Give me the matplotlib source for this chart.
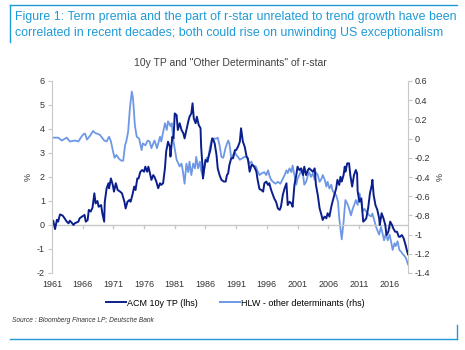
import matplotlib
matplotlib.use("Agg")
import matplotlib.pyplot as plt
from matplotlib.lines import Line2D

plt.rcParams['font.family'] = ['Liberation Sans', 'DejaVu Sans']

# ACM 10y term premium (lhs, %)
acm_years = [1961.0, 1961.2, 1961.5, 1961.8, 1962.0, 1962.3, 1962.7, 1963.0, 1963.4, 1963.7,
             1963.9, 1964.2, 1964.5, 1964.7, 1965.3, 1965.5, 1965.9, 1966.3, 1966.5, 1966.8,
             1967.0, 1967.3, 1967.6, 1967.9, 1968.1, 1968.4, 1968.6, 1969.0, 1969.2, 1969.5,
             1969.6, 1969.9, 1970.2, 1970.3, 1970.6, 1970.9, 1971.1, 1971.4, 1971.7, 1972.1,
             1972.4, 1972.8, 1973.0, 1973.3, 1973.6, 1973.8, 1974.1, 1974.4, 1974.6, 1974.9,
             1975.1, 1975.4, 1975.7, 1976.0, 1976.2, 1976.5, 1976.7, 1976.9, 1977.2, 1977.5,
             1977.7, 1978.0, 1978.3, 1978.6, 1978.8, 1979.1, 1979.4, 1979.6, 1979.9, 1980.2,
             1980.3, 1980.6, 1980.8, 1981.0, 1981.3, 1981.5, 1981.8, 1982.1, 1982.4, 1982.6,
             1982.9, 1983.2, 1983.4, 1983.7, 1983.9, 1984.1, 1984.4, 1984.6, 1984.9, 1985.2,
             1985.3, 1985.5, 1985.6, 1985.8, 1986.0, 1986.3, 1986.5, 1986.8, 1987.1, 1987.3,
             1987.5, 1987.8, 1988.0, 1988.3, 1988.6, 1989.0, 1989.3, 1989.5, 1989.7, 1989.9,
             1990.2, 1990.5, 1990.8, 1991.0, 1991.3, 1991.6, 1991.8, 1992.1, 1992.4, 1992.7,
             1992.9, 1993.2, 1993.5, 1993.7, 1994.0, 1994.3, 1994.5, 1994.8, 1995.1, 1995.4,
             1995.6, 1995.9, 1996.2, 1996.4, 1996.7, 1997.0, 1997.2, 1997.5, 1997.8, 1998.1,
             1998.3, 1998.6, 1998.9, 1999.2, 1999.4, 1999.7, 2000.0, 2000.2, 2000.5, 2000.8,
             2001.0, 2001.3, 2001.6, 2001.9, 2002.1, 2002.4, 2002.7, 2002.9, 2003.2, 2003.5,
             2003.8, 2004.0, 2004.3, 2004.6, 2004.9, 2005.1, 2005.4, 2005.7, 2005.9, 2006.2,
             2006.5, 2006.7, 2007.0, 2007.3, 2007.5, 2007.8, 2008.0, 2008.2, 2008.5, 2008.7,
             2008.8, 2009.1, 2009.4, 2009.6, 2009.9, 2010.2, 2010.5, 2010.7, 2010.8, 2011.1,
             2011.4, 2011.7, 2012.0, 2012.2, 2012.5, 2012.8, 2013.1, 2013.2, 2013.4, 2013.7,
             2014.0, 2014.3, 2014.4, 2014.7, 2015.0, 2015.3, 2015.5, 2015.8, 2016.1, 2016.4,
             2016.6, 2016.9, 2017.2, 2017.5, 2017.7, 2018.0, 2018.3, 2018.6, 2018.8, 2019.0]
acm_tp = [0.14, 0.18, -0.17, 0.22, 0.14, 0.44, 0.40, 0.30, 0.14, 0.07,
          0.18, 0.10, 0.00, 0.07, 0.14, 0.28, 0.35, 0.42, 0.14, 0.20,
          0.63, 0.56, 0.72, 1.32, 0.90, 1.00, 0.76, 0.83, 0.49, 0.14,
          0.97, 1.53, 1.74, 1.53, 1.94, 1.67, 1.39, 1.74, 1.46, 1.39,
          1.32, 0.97, 0.69, 0.97, 1.04, 0.97, 1.25, 1.60, 1.46, 1.94,
          1.94, 2.22, 2.29, 2.22, 2.43, 2.22, 2.43, 2.22, 1.88, 2.08,
          2.00, 1.81, 1.53, 1.74, 1.67, 1.74, 2.36, 3.06, 3.47, 3.26,
          2.85, 3.68, 3.61, 4.65, 4.58, 3.96, 4.24, 3.96, 3.82, 3.61,
          3.96, 4.31, 4.51, 4.65, 5.07, 4.44, 4.24, 4.51, 4.17, 4.03,
          3.26, 2.50, 1.94, 2.36, 2.71, 2.64, 2.85, 3.12, 3.61, 3.54,
          3.40, 2.92, 2.36, 2.08, 1.88, 1.81, 1.81, 2.08, 2.15, 2.50,
          2.78, 2.78, 3.12, 3.12, 3.26, 3.47, 4.03, 3.47, 3.26, 2.85,
          2.78, 2.22, 2.50, 2.50, 2.40, 2.22, 1.88, 1.50, 1.46, 1.39,
          1.74, 1.81, 1.67, 1.74, 1.46, 1.25, 1.11, 0.97, 0.69, 0.63,
          0.76, 1.25, 1.53, 1.74, 0.83, 0.97, 0.90, 0.76, 1.67, 2.08,
          2.43, 2.29, 2.36, 2.08, 2.43, 2.08, 2.29, 2.36, 2.29, 2.22,
          2.36, 1.67, 1.25, 0.69, 0.42, 0.21, 0.35, 0.28, 0.49, 0.35,
          0.76, 0.97, 1.25, 1.53, 1.88, 1.67, 2.01, 1.81, 2.08, 2.43,
          2.22, 2.57, 2.57, 2.08, 1.60, 2.08, 2.29, 2.15, 1.39, 0.97,
          1.11, 0.14, 0.21, 0.28, 0.69, 1.32, 1.67, 1.88, 1.25, 0.83,
          0.63, 0.28, 0.00, 0.49, 0.28, 0.00, -0.42, -0.28, 0.14, 0.00,
          -0.14, -0.28, -0.28, -0.49, -0.49, -0.42, -0.56, -0.83, -1.04, -1.22]

# HLW "other determinants" of r-star (rhs, %)
hlw_years = [1961.0, 1962.0, 1962.6, 1963.4, 1963.9, 1964.7, 1965.3, 1965.8, 1966.2, 1966.4,
             1966.7, 1967.2, 1967.7, 1968.0, 1968.8, 1969.5, 1969.9, 1970.3, 1970.6, 1971.0,
             1971.2, 1971.5, 1971.9, 1972.3, 1972.6, 1972.9, 1973.1, 1973.4, 1973.7, 1974.0,
             1974.2, 1974.5, 1974.8, 1975.2, 1975.6, 1975.8, 1976.2, 1976.6, 1976.9, 1977.2,
             1977.5, 1977.7, 1978.1, 1978.6, 1978.8, 1979.4, 1979.7, 1979.9, 1980.3, 1980.5,
             1980.8, 1981.3, 1981.8, 1982.1, 1982.3, 1982.6, 1982.9, 1983.2, 1983.4, 1983.7,
             1984.0, 1984.3, 1984.5, 1984.8, 1985.1, 1985.3, 1985.6, 1985.9, 1986.2, 1986.4,
             1986.7, 1987.0, 1987.2, 1987.8, 1988.0, 1988.3, 1988.6, 1988.9, 1989.3, 1989.7,
             1989.9, 1990.2, 1990.5, 1990.8, 1991.0, 1991.3, 1991.6, 1992.1, 1992.4, 1992.7,
             1992.9, 1993.2, 1993.5, 1993.7, 1994.2, 1994.5, 1994.8, 1995.2, 1995.6, 1995.9,
             1996.2, 1996.4, 1996.7, 1997.0, 1997.4, 1997.8, 1998.2, 1998.6, 1998.9, 1999.2,
             1999.4, 1999.7, 2000.0, 2000.2, 2000.5, 2000.8, 2001.0, 2001.3, 2001.6, 2001.9,
             2002.1, 2002.4, 2002.7, 2002.9, 2003.2, 2003.5, 2003.8, 2004.0, 2004.3, 2004.6,
             2004.9, 2005.1, 2005.4, 2005.7, 2005.9, 2006.2, 2006.5, 2006.7, 2007.0, 2007.3,
             2007.6, 2007.8, 2008.1, 2008.2, 2008.5, 2008.8, 2009.2, 2009.5, 2009.7, 2010.0,
             2010.3, 2010.5, 2010.8, 2011.1, 2011.4, 2011.6, 2011.9, 2012.2, 2012.7, 2013.0,
             2013.2, 2013.5, 2013.8, 2014.1, 2014.3, 2014.6, 2014.9, 2015.1, 2015.4, 2015.7,
             2016.0, 2016.2, 2016.5, 2016.8, 2017.0, 2017.3, 2017.6, 2017.9, 2018.1, 2018.4,
             2018.7, 2019.0]
hlw_other = [0.01, 0.01, -0.02, 0.01, -0.03, -0.02, -0.03, 0.02, 0.05, 0.05,
             -0.01, 0.03, 0.08, 0.06, 0.04, -0.02, -0.03, 0.02, -0.03, -0.15,
             -0.20, -0.17, -0.21, -0.23, -0.23, -0.07, -0.03, 0.07, 0.32, 0.49,
             0.42, 0.14, 0.02, 0.00, -0.12, -0.05, -0.07, -0.02, -0.03, -0.10,
             -0.05, -0.02, -0.10, 0.02, -0.03, 0.16, 0.09, 0.18, 0.13, 0.16,
             -0.03, -0.22, -0.29, -0.26, -0.33, -0.47, -0.26, -0.35, -0.24, -0.38,
             -0.26, -0.31, -0.19, -0.31, -0.24, -0.33, -0.40, -0.28, -0.20, -0.24,
             -0.10, -0.02, 0.00, 0.00, 0.01, -0.07, -0.19, -0.20, -0.09, -0.02,
             -0.05, -0.20, -0.17, -0.14, -0.17, -0.19, -0.22, -0.20, -0.19, -0.19,
             -0.22, -0.26, -0.24, -0.28, -0.29, -0.34, -0.38, -0.36, -0.35, -0.38,
             -0.33, -0.38, -0.43, -0.45, -0.47, -0.45, -0.47, -0.42, -0.38, -0.33,
             -0.36, -0.31, -0.35, -0.28, -0.38, -0.48, -0.42, -0.38, -0.33, -0.38,
             -0.48, -0.45, -0.38, -0.35, -0.40, -0.36, -0.43, -0.35, -0.38, -0.45,
             -0.42, -0.38, -0.42, -0.50, -0.45, -0.52, -0.48, -0.54, -0.57, -0.59,
             -0.66, -0.83, -1.00, -1.05, -0.87, -0.64, -0.69, -0.75, -0.80, -0.73,
             -0.68, -0.64, -0.69, -0.57, -0.66, -0.76, -0.73, -0.76, -0.80, -0.81,
             -0.78, -0.85, -0.92, -0.97, -1.00, -0.92, -1.00, -1.06, -0.99, -1.06,
             -1.00, -1.06, -1.16, -1.09, -1.12, -1.07, -1.16, -1.18, -1.20, -1.22,
             -1.25, -1.31]

x_ticks = list(range(1961, 2017, 5))
left_ticks = [-2, -1, 0, 1, 2, 3, 4, 5, 6]
right_ticks = [-1.4, -1.2, -1, -0.8, -0.6, -0.4, -0.2, 0, 0.2, 0.4, 0.6]

dark = '#0b1f8c'
light = '#6e98e6'
blue = '#1f9ad6'
grey = '#c8c8c8'

fig = plt.figure(figsize=(4.65, 3.5), dpi=100)

# title box
fig.add_artist(Line2D([10 / 465, 457 / 465], [1 - 5 / 350, 1 - 5 / 350], color=blue, lw=1.0))
fig.add_artist(Line2D([10 / 465, 10 / 465], [1 - 5 / 350, 1 - 42 / 350], color=blue, lw=1.0))
fig.text(15 / 465, 1 - 17 / 350, 'Figure 1: Term premia and the part of r-star unrelated to trend growth have been',
         color=blue, fontsize=8.9, va='center', ha='left')
fig.text(15 / 465, 1 - 33 / 350, 'correlated in recent decades; both could rise on unwinding US exceptionalism',
         color=blue, fontsize=8.9, va='center', ha='left')
fig.text(230 / 465, 1 - 63 / 350, '10y TP and "Other Determinants" of r-star',
         color='#404040', fontsize=7.5, va='center', ha='center')

ax = fig.add_axes([52 / 465, 1 - 273 / 350, (408 - 52) / 465, (273 - 81) / 350])
ax2 = ax.twinx()

ax2.plot(hlw_years, hlw_other, color=light, lw=1.3)
ax.plot(acm_years, acm_tp, color=dark, lw=1.4)
ax.set_zorder(ax2.get_zorder() + 1)
ax.patch.set_visible(False)

ax.set_xlim(1961, 2019)
ax.set_ylim(-2, 6)
ax2.set_ylim(-1.4, 0.6)
ax.set_yticks(left_ticks)
ax.set_yticklabels([str(v) for v in left_ticks])
ax2.set_yticks(right_ticks)
ax2.set_yticklabels(['%g' % v for v in right_ticks])

ax.axhline(0, color=grey, lw=1.0, zorder=0)
ax.set_xticks(x_ticks)
ax.set_xticklabels([str(v) for v in x_ticks])
ax.tick_params(axis='x', length=0, labelsize=6.5, pad=5, colors='#333333')
for xt in x_ticks:
    ax.plot([xt, xt], [0, -0.12], color=grey, lw=1.0, zorder=0)

for a in (ax, ax2):
    for s in ['top', 'bottom']:
        a.spines[s].set_visible(False)
ax.spines['right'].set_visible(False)
ax2.spines['left'].set_visible(False)
ax.spines['left'].set_color(grey)
ax2.spines['right'].set_color(grey)
ax.tick_params(axis='y', length=3, color=grey, labelsize=6.5, labelcolor='#333333', pad=2)
ax2.tick_params(axis='y', length=3, color=grey, labelsize=6.5, labelcolor='#333333', pad=2)

ax.set_ylabel('%', fontsize=6.5, color='#333333', labelpad=3)
ax2.set_ylabel('%', fontsize=6.5, color='#333333', rotation=270, labelpad=8)

handles = [Line2D([], [], color=dark, lw=1.4), Line2D([], [], color=light, lw=1.4)]
fig.legend(handles, ['ACM 10y TP (lhs)', 'HLW - other determinants (rhs)'],
           loc='center', bbox_to_anchor=(235 / 465, 1 - 303 / 350), ncol=2, frameon=False,
           fontsize=6.5, handlelength=2.2, handletextpad=0.1, columnspacing=2.5)

fig.text(12 / 465, 1 - 320 / 350, 'Source : Bloomberg Finance LP; Deutsche Bank',
         fontsize=4.8, style='italic', color='#333333', va='center')
fig.add_artist(Line2D([10 / 465, 457 / 465], [1 - 339 / 350, 1 - 339 / 350], color=blue, lw=1.0))
fig.add_artist(Line2D([457 / 465, 457 / 465], [1 - 325 / 350, 1 - 339 / 350], color=blue, lw=1.0))

fig.savefig('out.png', dpi=100)
